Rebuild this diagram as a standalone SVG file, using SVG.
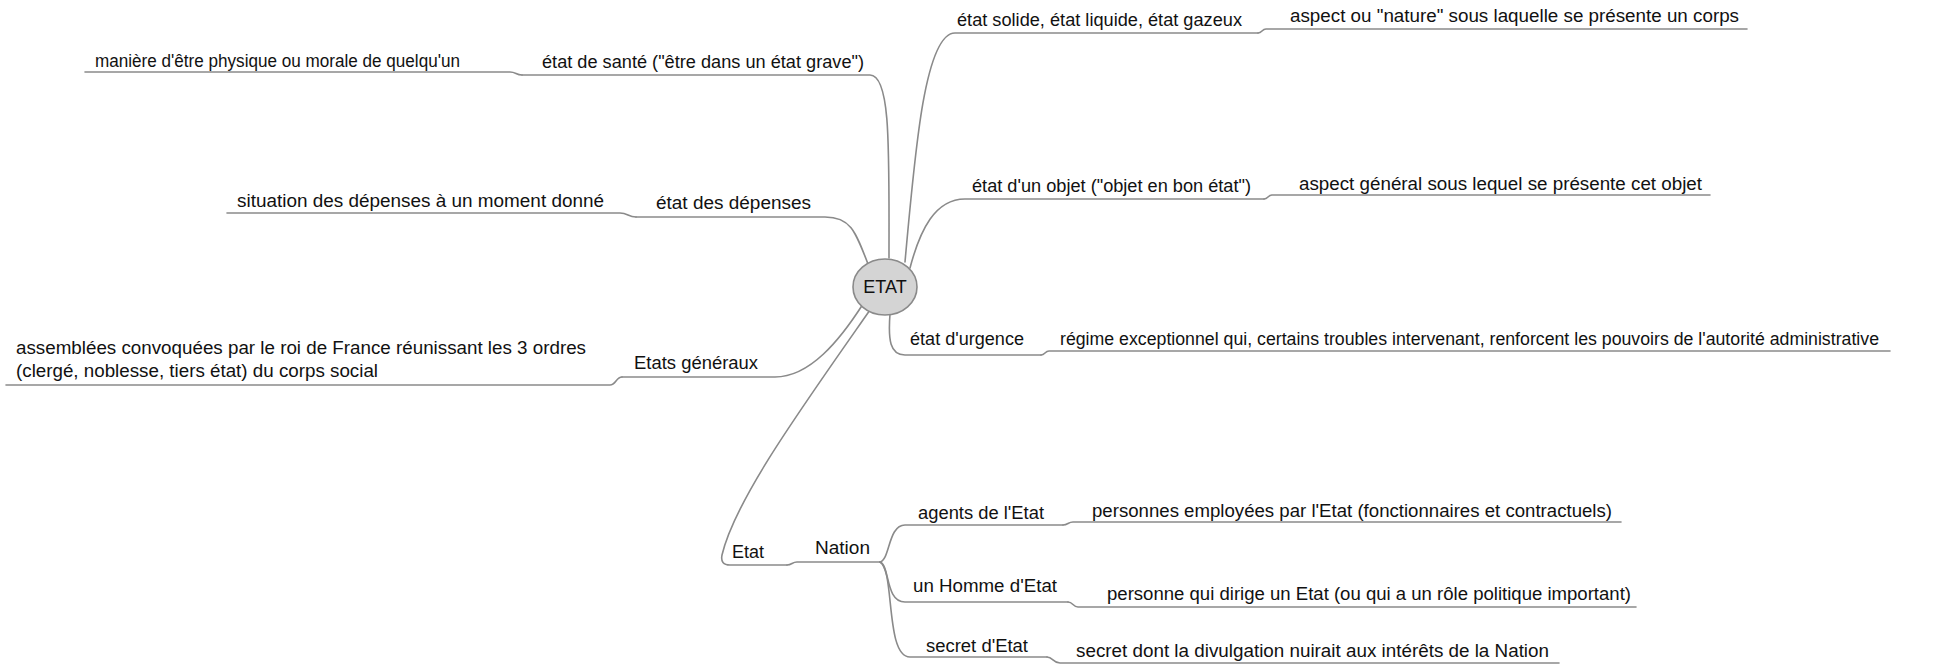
<svg xmlns="http://www.w3.org/2000/svg" width="1943" height="665" viewBox="0 0 1943 665">
<style>
text{font-family:"Liberation Sans",Arial,sans-serif;font-size:17.5px;fill:#111}
.c{fill:none;stroke:#8a8a8a;stroke-width:1.6;stroke-linecap:round}
.root{fill:#d4d4d4;stroke:#8a8a8a;stroke-width:1.6}
</style>
<rect width="1943" height="665" fill="#fff"/>
<g id="connectors">
<path class="c" d="M889 258 C889 150 891 75 870 75 H522"/>
<path class="c" d="M522 75 C516 75 516 72 510 72 H85"/>
<path class="c" d="M868 264 C855 230 850 217 825 217 H636"/>
<path class="c" d="M636 217 C628 217 628 213 620 213 H227"/>
<path class="c" d="M863 304 C840 340 810 377 775 377 H622"/>
<path class="c" d="M622 377 C616 377 616 385 610 385 H6"/>
<path class="c" d="M870 310 C800 410 735 500 722 555 Q720 565 730 565 H787"/>
<path class="c" d="M787 565 C792 565 792 562 797 562 H880"/>
<path class="c" d="M880 562 C890 560 888 525 905 525 H1063"/>
<path class="c" d="M1063 525 C1068 525 1068 522 1073 522 H1621"/>
<path class="c" d="M880 562 C890 565 885 602 905 602 H1068"/>
<path class="c" d="M1068 602 C1073 602 1073 607 1078 607 H1636"/>
<path class="c" d="M880 562 C895 570 885 657 910 657 H1047"/>
<path class="c" d="M1047 657 C1053 657 1053 663 1060 663 H1559"/>
<path class="c" d="M905 262 C915 150 925 33 955 33 H1258"/>
<path class="c" d="M1258 33 C1262 33 1262 29 1266 29 H1747"/>
<path class="c" d="M910 268 C920 230 935 199 965 199 H1264"/>
<path class="c" d="M1264 199 C1268 199 1268 195 1272 195 H1710"/>
<path class="c" d="M890 314 C888 340 890 355 905 355 H1041"/>
<path class="c" d="M1041 355 C1045 355 1045 351 1049 351 H1890"/>
</g>
<g id="n-etat"><ellipse class="root" cx="885" cy="287" rx="32" ry="28"/><text x="885" y="293" text-anchor="middle" style="font-size:18px">ETAT</text></g>
<g id="n-sante"><text x="542" y="68" textLength="322" lengthAdjust="spacingAndGlyphs">état de santé ("être dans un état grave")</text></g>
<g id="n-maniere"><text x="95" y="67" textLength="365" lengthAdjust="spacingAndGlyphs">manière d'être physique ou morale de quelqu'un</text></g>
<g id="n-depenses"><text x="656" y="209" textLength="155" lengthAdjust="spacingAndGlyphs">état des dépenses</text></g>
<g id="n-situation"><text x="237" y="207" textLength="367" lengthAdjust="spacingAndGlyphs">situation des dépenses à un moment donné</text></g>
<g id="n-generaux"><text x="634" y="369" textLength="124" lengthAdjust="spacingAndGlyphs">Etats généraux</text></g>
<g id="n-assemblees"><text x="16" y="354" textLength="570" lengthAdjust="spacingAndGlyphs">assemblées convoquées par le roi de France réunissant les 3 ordres</text><text x="16" y="377" textLength="362" lengthAdjust="spacingAndGlyphs">(clergé, noblesse, tiers état) du corps social</text></g>
<g id="n-etat2"><text x="732" y="558" textLength="32" lengthAdjust="spacingAndGlyphs">Etat</text></g>
<g id="n-nation"><text x="815" y="554" textLength="55" lengthAdjust="spacingAndGlyphs">Nation</text></g>
<g id="n-agents"><text x="918" y="519" textLength="126" lengthAdjust="spacingAndGlyphs">agents de l'Etat</text></g>
<g id="n-personnes"><text x="1092" y="517" textLength="520" lengthAdjust="spacingAndGlyphs">personnes employées par l'Etat (fonctionnaires et contractuels)</text></g>
<g id="n-homme"><text x="913" y="592" textLength="144" lengthAdjust="spacingAndGlyphs">un Homme d'Etat</text></g>
<g id="n-personne"><text x="1107" y="600" textLength="524" lengthAdjust="spacingAndGlyphs">personne qui dirige un Etat (ou qui a un rôle politique important)</text></g>
<g id="n-secret"><text x="926" y="652" textLength="102" lengthAdjust="spacingAndGlyphs">secret d'Etat</text></g>
<g id="n-secretdont"><text x="1076" y="657" textLength="473" lengthAdjust="spacingAndGlyphs">secret dont la divulgation nuirait aux intérêts de la Nation</text></g>
<g id="n-solide"><text x="957" y="26" textLength="285" lengthAdjust="spacingAndGlyphs">état solide, état liquide, état gazeux</text></g>
<g id="n-aspect"><text x="1290" y="22" textLength="449" lengthAdjust="spacingAndGlyphs">aspect ou "nature" sous laquelle se présente un corps</text></g>
<g id="n-objet"><text x="972" y="192" textLength="279" lengthAdjust="spacingAndGlyphs">état d'un objet ("objet en bon état")</text></g>
<g id="n-aspectgen"><text x="1299" y="190" textLength="403" lengthAdjust="spacingAndGlyphs">aspect général sous lequel se présente cet objet</text></g>
<g id="n-urgence"><text x="910" y="345" textLength="114" lengthAdjust="spacingAndGlyphs">état d'urgence</text></g>
<g id="n-regime"><text x="1060" y="345" textLength="819" lengthAdjust="spacingAndGlyphs">régime exceptionnel qui, certains troubles intervenant, renforcent les pouvoirs de l'autorité administrative</text></g>
</svg>
